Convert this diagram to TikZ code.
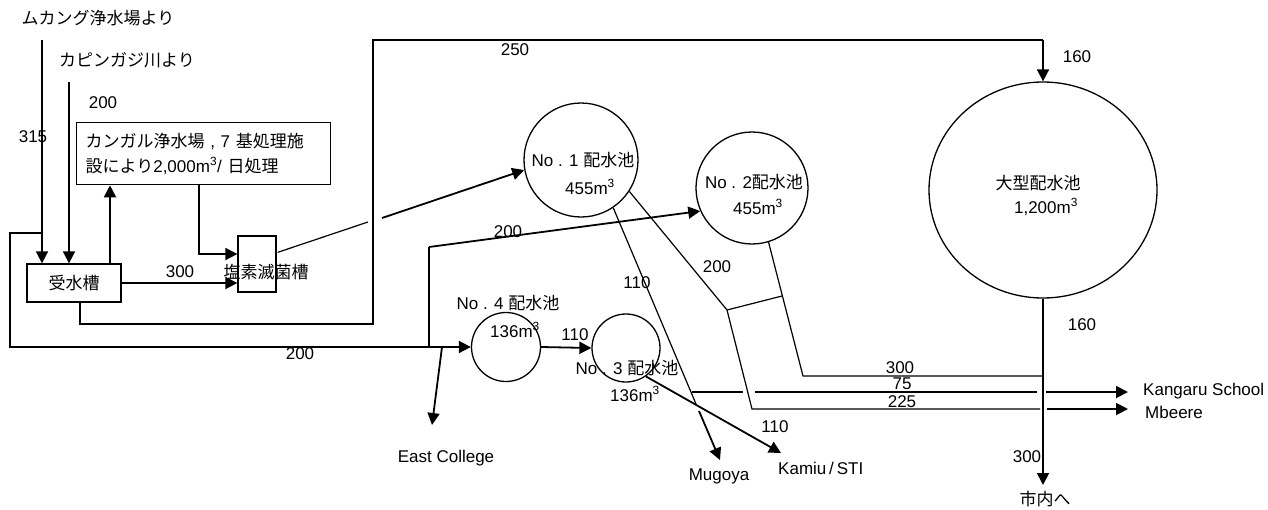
\documentclass[tikz,border=0pt]{standalone}
\usepackage{fontspec}
\setmainfont{Liberation Sans}
\newfontfamily\jp{Noto Sans CJK JP}
\usetikzlibrary{arrows.meta,shapes.geometric,calc}
\begin{document}
\begin{tikzpicture}[x=1pt,y=-1pt,
  txt/.style={inner sep=0pt, font=\fontsize{17}{25}\selectfont},
  thin/.style={line width=1.2pt},
  thick/.style={line width=1.8pt},
  flow/.style={line width=1.8pt, -{Triangle[length=12pt,width=12pt]}},
  boxst/.style={draw, line width=1.3pt, inner sep=0pt, font=\fontsize{17}{25}\selectfont},
  tank/.style={draw, line width=1.3pt, circle, inner sep=0pt}]
\useasboundingbox (0,0) rectangle (1268,509);

% ---------- nodes ----------
\node[txt] (lblMukang) at (98,18) {\jp ムカング浄水場より};
\node[txt] (lblKapin) at (127,60) {\jp カピンガジ川より};
\node[boxst, minimum width=254pt, minimum height=62pt, anchor=north west,
      text width=236pt, align=left, inner xsep=9pt] (kangal) at (76,122)
  {{\jp カンガル浄水場} , 7 {\jp 基処理施}\\{\jp 設により}2,000m\textsuperscript{3}/ {\jp 日処理}};
\node[boxst, minimum width=94pt, minimum height=38pt] (juusui) at (74,283) {\jp 受水槽};
\node[boxst, minimum width=38pt, minimum height=56pt] (chlor) at (257,264) {};
\node[txt] (lblChlor) at (266,272) {\jp 塩素滅菌槽};

\node[tank, minimum size=114pt] (no1) at (581,160) {};
\node[txt] (no1a) at (583,160) {No . 1 {\jp 配水池}};
\node[txt] (no1b) at (590,187) {455m\textsuperscript{3}};
\node[tank, minimum size=112pt] (no2) at (752,188) {};
\node[txt] (no2a) at (754,182) {No . 2{\jp 配水池}};
\node[txt] (no2b) at (758,207) {455m\textsuperscript{3}};
\node[tank, minimum size=69pt] (no4) at (506,347) {};
\node[txt] (no4a) at (508,303) {No . 4 {\jp 配水池}};
\node[txt] (no4b) at (515,330) {136m\textsuperscript{3}};
\node[tank, minimum size=68pt] (no3) at (626,348) {};
\node[txt] (no3a) at (627,368) {No . 3 {\jp 配水池}};
\node[txt] (no3b) at (635,394) {136m\textsuperscript{3}};
\node[draw, ellipse, line width=1.3pt, inner sep=0pt, minimum width=228pt, minimum height=216pt] (big) at (1043,190) {};
\node[txt] (biga) at (1038,183) {\jp 大型配水池};
\node[txt] (bigb) at (1046,207) {1,200m\textsuperscript{3}};

\node[txt] (eastc) at (446,458) {East College};
\node[txt] (mugoya) at (719,476) {Mugoya};
\node[txt, anchor=west] (kamiu) at (778,468) {Kamiu\,/\,STI};
\node[txt, anchor=west] (kangaru) at (1143,391) {Kangaru School};
\node[txt, anchor=west] (mbeere) at (1145,412) {Mbeere};
\node[txt] (shinai) at (1045,499) {\jp 市内へ};

% ---------- flow labels ----------
\node[txt] (q200a) at (103,103) {200};
\node[txt] (q315) at (33,137) {315};
\node[txt] (q300a) at (180,272) {300};
\node[txt] (q250) at (515,50) {250};
\node[txt] (q160a) at (1077,57) {160};
\node[txt] (q200b) at (300,354) {200};
\node[txt] (q200c) at (508,232) {200};
\node[txt] (q110a) at (637,283) {110};
\node[txt] (q200d) at (717,267) {200};
\node[txt] (q110b) at (575,335) {110};
\node[txt] (q300b) at (900,368) {300};
\node[txt] (q75) at (902,384) {75};
\node[txt] (q225) at (902,402) {225};
\node[txt] (q160b) at (1082,325) {160};
\node[txt] (q110c) at (775,427) {110};
\node[txt] (q300c) at (1027,457) {300};

% ---------- coordinates ----------
\coordinate (m0) at (42,40);
\coordinate (k0) at (69,82);
\coordinate (u0) at (110,263);
\coordinate (d0) at (199,254);
\coordinate (b1) at (80,324);
\coordinate (b2) at (373,324);
\coordinate (b3) at (373,40);
\coordinate (l0) at (42,233);
\coordinate (l1) at (10,233);
\coordinate (l2) at (10,347);
\coordinate (v0) at (429,347);
\coordinate (v1) at (429,247);
\coordinate (g1) at (368,222);
\coordinate (g2) at (382,218);
\coordinate (ec0) at (442,347);
\coordinate (ec1) at (432,425);
\coordinate (mg1) at (696,404);
\coordinate (mg2) at (699,411);
\coordinate (mg3) at (720,460);
\coordinate (j1) at (727,310);
\coordinate (j2) at (752,409);
\coordinate (k1) at (782,296);
\coordinate (p1) at (803,376);
\coordinate (vx) at (1042,376);
\coordinate (s0) at (692,392);
\coordinate (s1) at (743,392);
\coordinate (s2) at (755,392);
\coordinate (s3) at (1037,392);
\coordinate (s4) at (1046,392);
\coordinate (s5) at (1128,392);
\coordinate (t1) at (1040,409);
\coordinate (t2) at (1047,409);
\coordinate (t3) at (1128,409);
\coordinate (cityend) at (1043,485);
\coordinate (kmend) at (781,453);

% ---------- connectors ----------
\draw[flow] (m0) -- (m0 |- juusui.north);
\draw[flow] (k0) -- (k0 |- juusui.north);
\draw[flow] (u0) -- (u0 |- kangal.south);
\draw[flow] (juusui.east) -- (juusui.east -| chlor.west);
\draw[flow] (kangal.south -| d0) -- (d0) -- (d0 -| chlor.west);
\draw[thick] (juusui.south -| b1) -- (b1) -- (b2) -- (b3) -- (b3 -| big.north);
\draw[flow] (b3 -| big.north) -- (big.north);
\draw[thin] (l0) -- (l1) -- (l2) -- (v0);
\draw[flow] (v0) -- (no4.west);
\draw[thin] (v0) -- (v1);
\draw[flow] (v1) -- (no2.204);
\draw[thin] ($(chlor.north east)+(1,17)$) -- (g1);
\draw[flow] (g2) -- (no1.190);
\draw[flow] (no4.east) -- (no3.west);
\draw[flow] (ec0) -- (ec1);
\draw[thin] (no1.-56) -- (mg1);
\draw[flow] (mg2) -- (mg3);
\draw[flow] (no3.-55) -- (kmend);
\draw[thin] (no1.-33) -- (j1) -- (j2) -- (t1);
\draw[flow] (t2) -- (t3);
\draw[thin] (j1) -- (k1);
\draw[thin] (no2.-73) -- (p1) -- (vx);
\draw[thin] (s0) -- (s1);
\draw[thin] (s2) -- (s3);
\draw[flow] (s4) -- (s5);
\draw[flow] (big.south) -- (cityend);
\end{tikzpicture}
\end{document}
